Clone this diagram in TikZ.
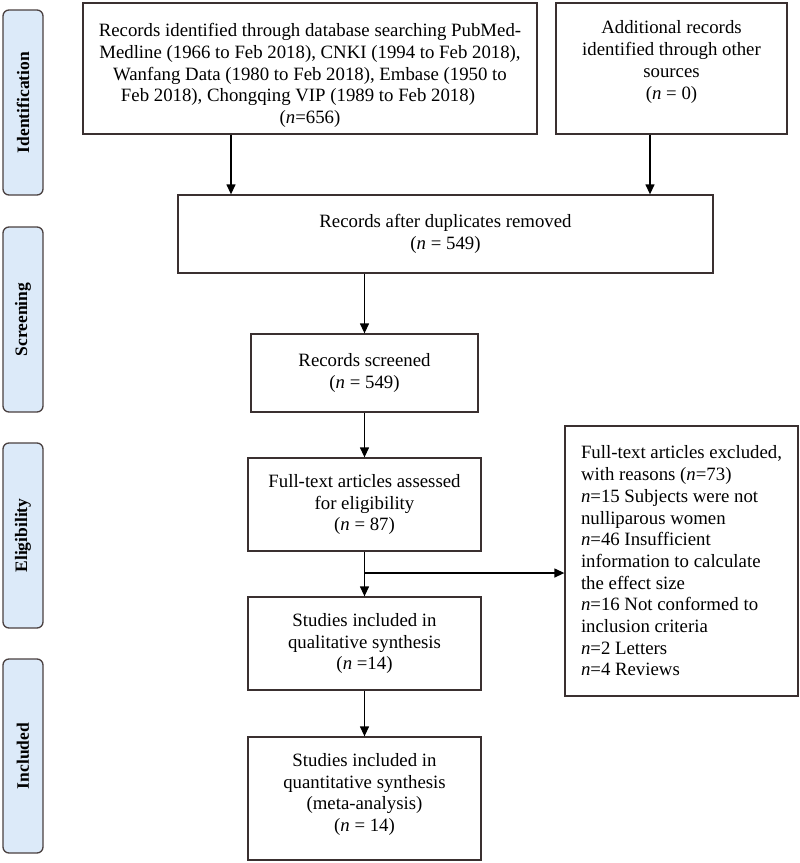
\documentclass[tikz,border=0pt]{standalone}
\usepackage{fontspec}
\setmainfont{Liberation Serif}
\usetikzlibrary{arrows.meta}
\definecolor{boxline}{RGB}{58,48,48}
\definecolor{sidefill}{RGB}{220,234,249}
\definecolor{sideline}{RGB}{74,64,64}
\begin{document}
\begin{tikzpicture}[x=1pt,y=-1pt,
  every node/.style={font=\fontsize{18.8}{21.7}\selectfont},
  box/.style={draw=boxline,line width=1.3pt,inner sep=0pt,align=center},
  side/.style={draw=sideline,fill=sidefill,line width=1.3pt,rounded corners=6pt,minimum width=40pt,inner sep=0pt},
  sidetext/.style={font=\fontsize{17.5}{20}\selectfont\bfseries,rotate=90},
  arr/.style={draw=black,line width=1.3pt,-{Triangle[length=10pt,width=9pt]}}]
\useasboundingbox (0,0) rectangle (800,863);
% side labels
\node[side,minimum height=185pt] (s1) at (23,102.5) {};
\node[sidetext] (t1) at (s1.center) {Identification};
\node[side,minimum height=185pt] (s2) at (23,319.5) {};
\node[sidetext] (t2) at (s2.center) {Screening};
\node[side,minimum height=185pt] (s3) at (23,535.5) {};
\node[sidetext] (t3) at (s3.center) {Eligibility};
\node[side,minimum height=194pt] (s4) at (23,756) {};
\node[sidetext] (t4) at (s4.center) {Included};
% boxes
\node[box,minimum width=454pt,minimum height=131pt] (b1) at (310,68.5) {};
\node[inner sep=0pt,yshift=-7pt] (b1t) at (b1.center)
 {\parbox{426pt}{\fontsize{18.8}{21.7}\selectfont Records identified through database searching PubMed-\linebreak Medline (1966 to Feb 2018), CNKI (1994 to Feb 2018),\linebreak Wanfang Data (1980 to Feb 2018), Embase (1950 to\linebreak Feb 2018), Chongqing VIP (1989 to Feb 2018)\\ \centering(\textit{n}=656)\par}};
\node[box,minimum width=231pt,minimum height=131pt] (b2) at (671.5,68.5)
 {Additional records\\identified through other\\sources\\(\textit{n} = 0)\\[-4.7pt]};
\node[box,minimum width=535pt,minimum height=78pt] (b3) at (445.5,234)
 {Records after duplicates removed\\(\textit{n} = 549)};
\node[box,minimum width=227pt,minimum height=78pt] (b4) at (364.5,373)
 {Records screened\\(\textit{n} = 549)};
\node[box,minimum width=233pt,minimum height=93pt] (b5) at (364.5,504.5)
 {Full-text articles assessed\\for eligibility\\(\textit{n} = 87)};
\node[box,minimum width=233pt,minimum height=270pt,align=left] (ex) at (681.5,561)
 {Full-text articles excluded,\\with reasons (\textit{n}=73)\\\textit{n}=15 Subjects were not\\nulliparous women\\\textit{n}=46 Insufficient\\information to calculate\\the effect size\\\textit{n}=16 Not conformed to\\inclusion criteria\\\textit{n}=2 Letters\\\textit{n}=4 Reviews};
\node[box,minimum width=233pt,minimum height=93pt] (b6) at (364.5,643.5)
 {Studies included in\\qualitative synthesis\\(\textit{n} =14)};
\node[box,minimum width=233pt,minimum height=123pt] (b7) at (364.5,798.5)
 {Studies included in\\quantitative synthesis\\(meta-analysis)\\(\textit{n} = 14)\\[-9.7pt]};
% connectors
\draw[arr] ([xshift=-79pt]b1.south) -- ([xshift=-79pt]b1.south |- b3.north);
\draw[arr] ([xshift=-21.5pt]b2.south) -- ([xshift=-21.5pt]b2.south |- b3.north);
\draw[arr] (b4.north |- b3.south) -- (b4.north);
\draw[arr] (b4.south) -- (b5.north);
\draw[arr] (b5.south) -- (b6.north);
\draw[arr] (b6.south) -- (b7.north);
\coordinate (br) at (364.5,573);
\draw[arr] (br) -- (br -| ex.west);
\end{tikzpicture}
\end{document}
